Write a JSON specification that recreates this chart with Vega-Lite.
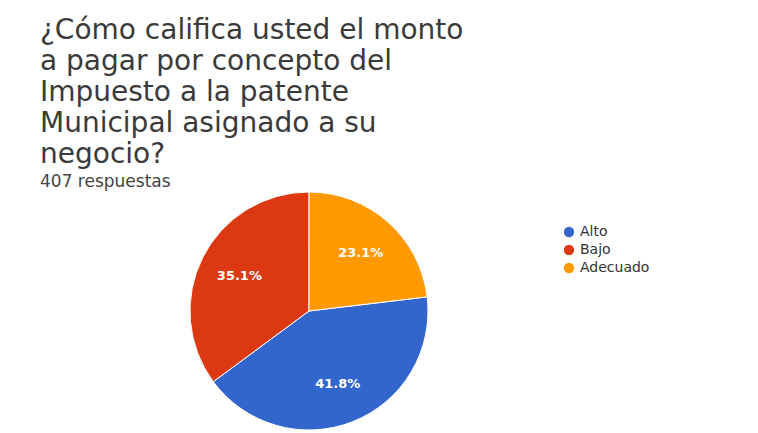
{
  "$schema": "https://vega.github.io/schema/vega-lite/v6.json",
  "width": 538,
  "height": 238,
  "padding": {"left": 40, "top": 17, "right": 0, "bottom": 0},
  "autosize": {"type": "pad"},
  "background": "white",
  "title": {
    "text": ["¿Cómo califica usted el monto", "a pagar por concepto del", "Impuesto a la patente", "Municipal asignado a su", "negocio?"],
    "subtitle": "407 respuestas",
    "anchor": "start",
    "font": "DejaVu Sans",
    "fontSize": 28,
    "fontWeight": "normal",
    "color": "#3a3a3a",
    "lineHeight": 31,
    "subtitleFont": "DejaVu Sans",
    "subtitleFontSize": 17,
    "subtitleColor": "#444444",
    "subtitlePadding": 5,
    "offset": 0
  },
  "data": {
    "values": [
      {"respuesta": "Alto", "cantidad": 170, "etiqueta": "41.8%", "orden": 1},
      {"respuesta": "Bajo", "cantidad": 143, "etiqueta": "35.1%", "orden": 2},
      {"respuesta": "Adecuado", "cantidad": 94, "etiqueta": "23.1%", "orden": 3}
    ]
  },
  "encoding": {
    "theta": {"field": "cantidad", "type": "quantitative", "stack": true, "scale": {"range": [1.4519, 7.7351]}},
    "order": {"field": "orden", "type": "quantitative"},
    "color": {
      "field": "respuesta",
      "type": "nominal",
      "scale": {"domain": ["Alto", "Bajo", "Adecuado"], "range": ["#3366cc", "#dc3912", "#ff9900"]},
      "legend": {
        "title": null,
        "orient": "none",
        "legendX": 522,
        "legendY": 33,
        "symbolType": "circle",
        "symbolSize": 140,
        "labelFont": "DejaVu Sans",
        "labelFontSize": 14,
        "labelColor": "#333333",
        "rowPadding": 0
      }
    }
  },
  "layer": [
    {"mark": {"type": "arc", "stroke": "white", "strokeWidth": 1}},
    {
      "mark": {"type": "text", "radius": 78, "color": "white", "font": "DejaVu Sans", "fontSize": 13, "fontWeight": "bold"},
      "encoding": {"text": {"field": "etiqueta", "type": "nominal"}, "color": {"value": "white"}}
    }
  ],
  "config": {"view": {"stroke": null}}
}
